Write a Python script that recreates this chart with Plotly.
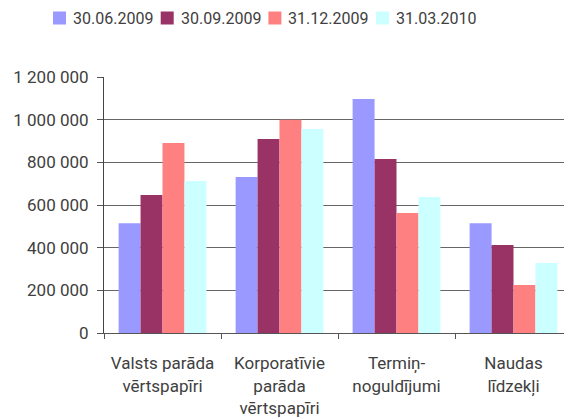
import plotly.graph_objects as go

categories = ["Valsts parāda<br>vērtspapīri", "Korporatīvie<br>parāda<br>vērtspapīri",
              "Termiņ-<br>noguldījumi", "Naudas<br>līdzekļi"]
series_names = ["30.06.2009", "30.09.2009", "31.12.2009", "31.03.2010"]
v_2009_06 = [515000, 731000, 1097000, 515000]
v_2009_09 = [647000, 909000, 816000, 412000]
v_2009_12 = [891000, 1000000, 562000, 225000]
v_2010_03 = [712000, 956000, 637000, 328000]
colors = ["#9999FF", "#993366", "#FF8080", "#CCFFFF"]
y_tickvals = [0, 200000, 400000, 600000, 800000, 1000000, 1200000]
y_ticktext = ["0", "200 000", "400 000", "600 000", "800 000", "1 000 000", "1 200 000"]

# the page body has an 8px default margin; size the figure so it fills the 572x419 window
OFF = 8
W, H = 572 - OFF, 419 - OFF
ML, MR, MT = 104 - OFF, 0, 77 - OFF
PW, PH = 468, 256
MB = H - MT - PH


def px_x(px):
    return (px - OFF - ML) / PW


def px_y(py):
    return (MT + PH - (py - OFF)) / PH


fig = go.Figure()
for name, vals, col in zip(series_names, [v_2009_06, v_2009_09, v_2009_12, v_2010_03], colors):
    fig.add_trace(go.Bar(x=categories, y=vals, name=name, showlegend=False,
                         marker=dict(color=col, line=dict(width=0))))

# legend drawn as squares + text in a single row at the top
leg_x0, leg_step, sq = 53, 107.7, 13
for i, (name, col) in enumerate(zip(series_names, colors)):
    x0 = leg_x0 + i * leg_step
    fig.add_shape(type="rect", xref="paper", yref="paper",
                  x0=px_x(x0), x1=px_x(x0 + sq), y0=px_y(24.5), y1=px_y(11.5),
                  fillcolor=col, line=dict(width=0))
    fig.add_annotation(xref="paper", yref="paper", x=px_x(x0 + 18), y=px_y(18),
                       xanchor="left", yanchor="middle", text=name, showarrow=False,
                       font=dict(size=16))

fig.update_layout(
    width=W, height=H,
    margin=dict(l=ML, r=MR, t=MT, b=MB, autoexpand=False),
    paper_bgcolor="white", plot_bgcolor="white",
    font=dict(family="Roboto", size=17, color="#404040"),
    barmode="group", bargap=0.25, bargroupgap=0,
    showlegend=False,
)
fig.update_xaxes(showline=True, linecolor="#555555", linewidth=1, ticks="outside",
                 tickson="boundaries", ticklen=5, tickcolor="#555555", showgrid=False,
                 ticklabelstandoff=15, automargin=False)
fig.update_yaxes(range=[0, 1200000], tickvals=y_tickvals, ticktext=y_ticktext,
                 showline=True, linecolor="#444444", linewidth=1, ticks="outside",
                 ticklen=6, tickcolor="#555555", showgrid=True, gridcolor="#666666",
                 gridwidth=1, zeroline=False, ticklabelstandoff=5, automargin=False)

fig.write_html("out.html")
